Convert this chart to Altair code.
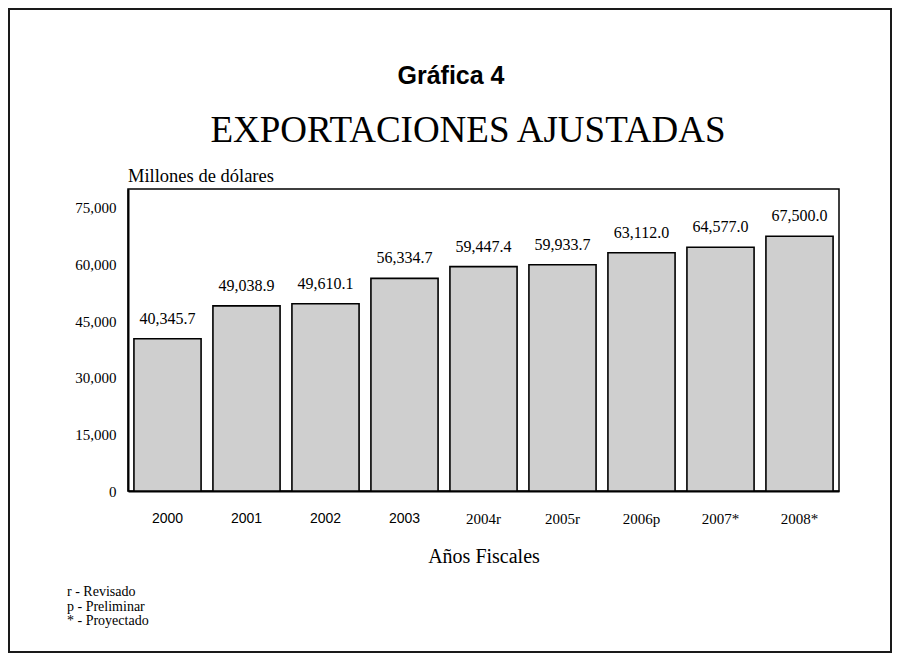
import altair as alt
import pandas as pd

years = ["2000", "2001", "2002", "2003", "2004r", "2005r", "2006p", "2007*", "2008*"]
values = [40345.7, 49038.9, 49610.1, 56334.7, 59447.4, 59933.7, 63112.0, 64577.0, 67500.0]
y_ticks = [0, 15000, 30000, 45000, 60000, 75000]
footnotes = ["r - Revisado", "p - Preliminar", "* - Proyectado"]
title_1 = "Gráfica 4"
title_2 = "EXPORTACIONES AJUSTADAS"
y_title = "Millones de dólares"
x_title = "Años Fiscales"

df = pd.DataFrame({"year": years, "value": values})

SERIF = "Liberation Serif"
SANS = "Liberation Sans"

x_enc = alt.X(
    "year:N",
    sort=years,
    scale=alt.Scale(paddingInner=0.15, paddingOuter=0.075),
    axis=alt.Axis(
        title=x_title,
        titleFont=SERIF,
        titleFontSize=20,
        titleFontWeight="normal",
        titleColor="black",
        titlePadding=20,
        labelAngle=0,
        labelFont={
            "condition": {
                "test": "indexof(['2000','2001','2002','2003'], datum.value) >= 0",
                "value": SANS,
            },
            "value": SERIF,
        },
        labelFontSize={
            "condition": {
                "test": "indexof(['2000','2001','2002','2003'], datum.value) >= 0",
                "value": 14,
            },
            "value": 15,
        },
        labelColor="black",
        labelPadding=20,
        ticks=False,
        tickSize=0,
        domainColor="black",
        domainWidth=2,
        grid=False,
    ),
)

y_enc = alt.Y(
    "value:Q",
    scale=alt.Scale(domain=[0, 80000], nice=False),
    axis=alt.Axis(
        title=None,
        values=y_ticks,
        format=",d",
        labelFont=SERIF,
        labelFontSize=15,
        labelColor="black",
        labelPadding=12,
        ticks=False,
        tickSize=0,
        domainColor="black",
        domainWidth=2,
        grid=False,
    ),
)

base = alt.Chart(df)

bars = base.mark_bar(fill="#cfcfcf", stroke="black", strokeWidth=1.6).encode(
    x=x_enc, y=y_enc
)

labels = base.mark_text(
    font=SERIF, fontSize=16, baseline="bottom", dy=-12, color="black"
).encode(
    x=alt.X("year:N", sort=years),
    y="value:Q",
    text=alt.Text("value:Q", format=",.1f"),
)

one = pd.DataFrame({"t": [""]})

frame = alt.Chart(one).mark_rect(
    filled=False, stroke="#1a1a1a", strokeWidth=2
).encode(
    x=alt.value(-119), x2=alt.value(763), y=alt.value(-180), y2=alt.value(463)
)

t1 = alt.Chart(pd.DataFrame({"t": [title_1]})).mark_text(
    font=SANS, fontSize=25, fontWeight="bold", align="center",
    baseline="middle", color="black"
).encode(x=alt.value(323), y=alt.value(-113), text="t:N")

t2 = alt.Chart(pd.DataFrame({"t": [title_2]})).mark_text(
    font=SERIF, fontSize=37, align="center", baseline="middle", color="black"
).encode(x=alt.value(340), y=alt.value(-58), text="t:N")

ty = alt.Chart(pd.DataFrame({"t": [y_title]})).mark_text(
    font=SERIF, fontSize=18.5, align="left", baseline="middle", color="black"
).encode(x=alt.value(0), y=alt.value(-13), text="t:N")

tf = alt.Chart(pd.DataFrame({"t": ["\n".join(footnotes)]})).mark_text(
    font=SERIF, fontSize=14, align="left", baseline="middle",
    lineBreak="\n", lineHeight=14.5, color="black"
).encode(x=alt.value(-61), y=alt.value(403), text="t:N")

chart = alt.layer(frame, bars, labels, t1, t2, ty, tf).properties(
    width=711,
    height=302,
    autosize=alt.AutoSizeParams(type="none"),
    padding={"left": 120, "top": 181, "right": 53, "bottom": 162},
    background="white",
).configure_view(stroke="black", strokeWidth=1.5)

chart.save("out.html", embed_options={"renderer": "svg", "actions": False})
